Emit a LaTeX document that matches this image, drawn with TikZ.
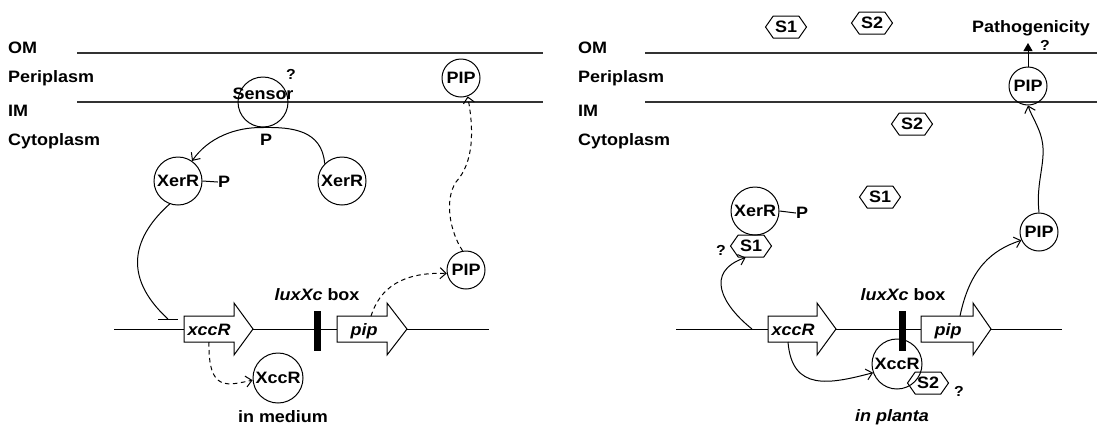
\documentclass[tikz,border=0pt]{standalone}
\usepackage{fontspec}
\setmainfont{Liberation Sans}[FakeStretch=1.09]
\usetikzlibrary{arrows.meta,shapes.symbols}
\begin{document}
\begin{tikzpicture}[x=1pt,y=-1pt,
  every node/.style={inner sep=0pt, font=\fontsize{16.5}{19}\selectfont\bfseries},
  lbl/.style={anchor=base west},
  qm/.style={font=\fontsize{14.5}{16}\selectfont\bfseries},
  mem/.style={line width=1.4pt, draw=black!80},
  con/.style={line width=1pt},
  prot/.style={circle, draw, line width=1pt, minimum size=48pt},
  pipc/.style={circle, draw, line width=1pt, minimum size=38pt},
  hexa/.style={signal, signal to=west and east, draw, line width=1pt,
    minimum width=41pt, minimum height=22pt, signal pointer angle=110},
  arr/.style={con, -{Straight Barb[length=6pt,width=11pt]}},
  dsh/.style={arr, dash pattern=on 4.5pt off 3.5pt},
  gene/.style={draw, line width=1pt, fill=white},
  gtxt/.style={anchor=base, font=\fontsize{16.5}{19}\selectfont\bfseries\itshape},
  bar/.style={fill=black, minimum width=7pt, minimum height=40pt},
]
\useasboundingbox (0,0) rectangle (1097,432);

% ================= left panel =================
\node[lbl] (omL) at (8,53) {OM};
\node[lbl] (periL) at (8,82) {Periplasm};
\node[lbl] (imL) at (8,116) {IM};
\node[lbl] (cytoL) at (8,145) {Cytoplasm};
\coordinate (omL1) at (77,53); \coordinate (omL2) at (543,53);
\coordinate (imL1) at (77,102); \coordinate (imL2) at (543,102);
\draw[mem] (omL1) -- (omL2);
\draw[mem] (imL1) -- (imL2);

\node[prot, minimum size=50pt] (sensor) at (263,102) {};
\node (sensorlbl) at (263,94) {Sensor};
\node[qm] (sensorq) at (291,74) {?};
\node (sensorP) at (266,140) {P};

\node[prot] (xerL) at (178,181) {XerR};
\node (xerLP) at (224,182) {P};
\draw[con] (xerL.east) -- (xerLP.west);
\node[prot] (xerR) at (342,181) {XerR};

\draw[arr] (xerR.north west) .. controls (322,130) and (292,127) .. (sensor.south)
  .. controls (235,127) and (208,138) .. (xerL.55);

% DNA
\coordinate (dnaL1) at (114,329); \coordinate (dnaL2) at (489,329);
\draw[con] (dnaL1) -- (dnaL2);
\draw[gene] (184,316) -- (234,316) -- (234,303) -- (253,329) -- (234,355) -- (234,342) -- (184,342) -- cycle;
\node[gtxt] (xccgL) at (209,335) {xccR};
\node[bar] (luxL) at (317,331) {};
\draw[gene] (337,316) -- (387,316) -- (387,303) -- (407,329) -- (387,355) -- (387,342) -- (337,342) -- cycle;
\node[gtxt] (pipgL) at (364,335) {pip};
\node (luxtxtL) at (317,295) {\textit{luxXc} box};

% inhibition
\coordinate (inhL) at (168,319);
\coordinate (inhLa) at (158,319); \coordinate (inhLb) at (178,319);
\draw[con] (xerL.250) .. controls (135,235) and (120,275) .. (inhL);
\draw[con] (inhLa) -- (inhLb);

\node[pipc] (pipL2) at (466,270) {PIP};
\node[pipc] (pipL1) at (461,78) {PIP};
\coordinate (pipgLtop) at (371,316);
\draw[dsh] (pipgLtop) .. controls (380,288) and (402,272) .. (pipL2.190);
\draw[dsh] (pipL2.100) .. controls (450,232) and (444,200) .. (456,182)
  .. controls (474,162) and (474,130) .. (pipL1.-70);

\node[prot, minimum size=50pt] (xccL) at (278,378) {XccR};
\coordinate (xccgLbot) at (209,342);
\draw[dsh] (xccgLbot) .. controls (208,393) and (228,385) .. (xccL.185);

\node (medium) at (283,417) {in medium};

% ================= right panel =================
\node[lbl] (omR) at (578,53) {OM};
\node[lbl] (periR) at (578,82) {Periplasm};
\node[lbl] (imR) at (578,116) {IM};
\node[lbl] (cytoR) at (578,145) {Cytoplasm};
\coordinate (omR1) at (645,53); \coordinate (omR2) at (1097,53);
\coordinate (imR1) at (645,102); \coordinate (imR2) at (1097,102);
\draw[mem] (omR1) -- (omR2);
\draw[mem] (imR1) -- (imR2);

\node[hexa] (s1top) at (786,27) {S1};
\node[hexa] (s2top) at (872,23) {S2};
\node[hexa] (s2mid) at (912,124) {S2};
\node[hexa] (s1mid) at (880,197) {S1};

\node (patho) at (1031,28) {Pathogenicity};
\node[pipc] (pipR1) at (1028,86) {PIP};
\coordinate (pathtip) at (1028,43);
\draw[con, -{Triangle[length=8pt,width=9pt]}] (pipR1.north) -- (pathtip);
\node[qm] (pathq) at (1045,45) {?};

\node[prot] (xerRR) at (755,211) {XerR};
\node (xerRP) at (802,213) {P};
\draw[con] (xerRR.east) -- (xerRP.west);
\node[hexa] (s1b) at (751,246) {S1};
\node[qm] (s1bq) at (721,250) {?};

\coordinate (dnaR1) at (676,329); \coordinate (dnaR2) at (1062,329);
\draw[con] (dnaR1) -- (dnaR2);
\draw[gene] (768,316) -- (817,316) -- (817,303) -- (836,329) -- (817,355) -- (817,342) -- (768,342) -- cycle;
\node[gtxt] (xccgR) at (793,335) {xccR};
\draw[gene] (921,316) -- (973,316) -- (973,303) -- (991,329) -- (973,355) -- (973,342) -- (921,342) -- cycle;
\node[gtxt] (pipgR) at (948,335) {pip};
\node (luxtxtR) at (903,295) {\textit{luxXc} box};

\node[prot, minimum size=50pt] (xccR) at (897,364) {XccR};
\node[bar] (luxR) at (902,331) {};
\node[hexa] (s2b) at (928,383) {S2};
\node[qm] (s2bq) at (959,391) {?};

\coordinate (dnaS1) at (752,329);
\draw[arr] (dnaS1) .. controls (722,305) and (704,272) .. (s1b.245);

\coordinate (xccgRbot) at (788,342);
\draw[arr] (xccgRbot) .. controls (792,392) and (830,384) .. (xccR.200);

\node[pipc] (pipR2) at (1039,232) {PIP};
\coordinate (pipgRtop) at (960,316);
\draw[arr] (pipgRtop) .. controls (970,268) and (992,250) .. (pipR2.205);
\draw[arr] (pipR2.north) .. controls (1036,185) and (1044,168) .. (1043,148)
  .. controls (1042,130) and (1032,118) .. (pipR1.south);

\node (planta) at (892,417) {\itshape in planta};
\end{tikzpicture}
\end{document}
